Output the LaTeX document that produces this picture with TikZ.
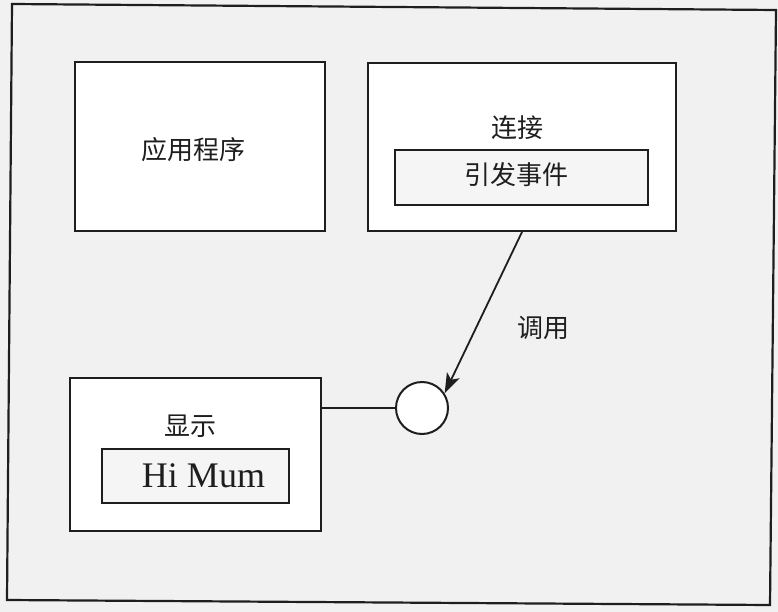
\documentclass[tikz,border=0pt]{standalone}
\usepackage{fontspec}
\setmainfont{Liberation Serif}
\newfontfamily\cjk{Noto Sans CJK SC}
\usetikzlibrary{arrows.meta}
\definecolor{ink}{HTML}{1E1E1E}
\definecolor{paper}{HTML}{F1F1F1}
\definecolor{innerpaper}{HTML}{F5F5F5}
\tikzset{
  box/.style={draw=ink, line width=2pt, fill=white, rectangle, inner sep=0pt},
  innerbox/.style={draw=ink, line width=2pt, fill=innerpaper, rectangle, inner sep=0pt},
  cjktext/.style={font=\cjk\fontsize{26}{30}\selectfont, text=ink, inner sep=0pt},
  serif/.style={font=\fontsize{36}{40}\selectfont, text=ink, inner sep=0pt},
  conn/.style={draw=ink, line width=1.8pt},
  arrowtip/.style={-{Stealth[length=20pt,width=14pt,inset=5pt]}}
}
\begin{document}
\begin{tikzpicture}[x=1pt,y=-1pt]
  \fill[paper] (0,0) rectangle (778,612);
  \useasboundingbox (0,0) rectangle (778,612);
  % outer frame (slightly skewed scan)
  \draw[ink, line width=2.2pt] (12,4) -- (776,10) -- (770,605) -- (7,600) -- cycle;
  % application box
  \node[box, minimum width=250pt, minimum height=169pt] (app) at (200,146.5) {};
  \node[cjktext] (apptext) at (193,150) {应用程序};
  % connection box
  \node[box, minimum width=308pt, minimum height=168pt] (link) at (522,147) {};
  \node[cjktext] (linktext) at (517,128) {连接};
  \node[innerbox, minimum width=253pt, minimum height=55pt] (fire) at (521.5,177.5) {};
  \node[cjktext] (firetext) at (516,175) {引发事件};
  % display box
  \node[box, minimum width=251pt, minimum height=153pt] (disp) at (195.5,454.5) {};
  \node[cjktext] (disptext) at (190,426) {显示};
  \node[innerbox, minimum width=187pt, minimum height=54pt] (hibox) at (195.5,476) {};
  \node[serif, anchor=base] (hitext) at (203.5,487) {Hi Mum};
  % interface circle
  \node[draw=ink, line width=2pt, fill=white, circle, minimum size=52pt, inner sep=0pt] (port) at (422,408) {};
  % connectors
  \draw[conn] (port.west) -- (port.west -| disp.east);
  \draw[conn, arrowtip] (link.south) -- (port.33);
  \node[cjktext] (calltext) at (543,328) {调用};
\end{tikzpicture}
\end{document}
